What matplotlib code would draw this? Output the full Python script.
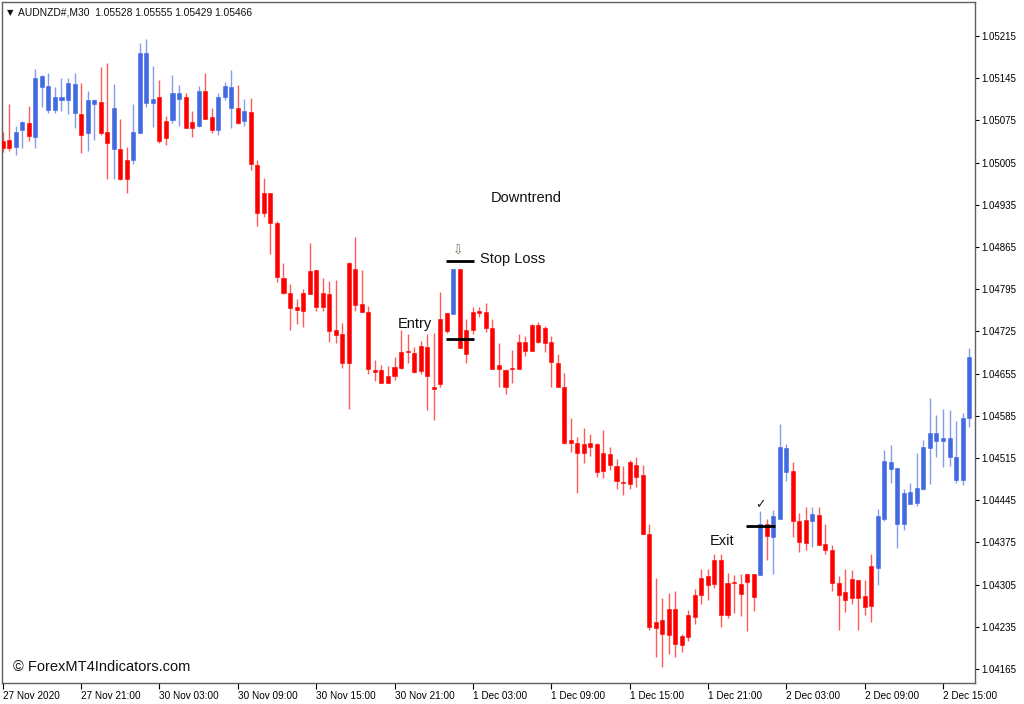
import matplotlib
matplotlib.use("Agg")
import matplotlib.pyplot as plt
import numpy as np

# ---------------- data (AUDNZD M30) ----------------
opens = [1.05040, 1.05042, 1.05031, 1.05059, 1.05071, 1.05048, 1.05130, 1.05093, 1.05093, 1.05109,
         1.05109, 1.05087, 1.05085, 1.05054, 1.05102, 1.05105, 1.05055, 1.05027, 1.05027, 1.05010,
         1.05010, 1.05054, 1.05104, 1.05104, 1.05113, 1.05074, 1.05076, 1.05110, 1.05113, 1.05073,
         1.05066, 1.05124, 1.05080, 1.05059, 1.05113, 1.05095, 1.05095, 1.05074, 1.05089, 1.05001,
         1.04954, 1.04954, 1.04904, 1.04814, 1.04788, 1.04765, 1.04788, 1.04825, 1.04827, 1.04789,
         1.04787, 1.04727, 1.04720, 1.04839, 1.04829, 1.04771, 1.04757, 1.04661, 1.04661, 1.04651,
         1.04666, 1.04691, 1.04692, 1.04689, 1.04700, 1.04699, 1.04633, 1.04746, 1.04755, 1.04754,
         1.04829, 1.04727, 1.04757, 1.04758, 1.04757, 1.04731, 1.04670, 1.04661, 1.04664, 1.04708,
         1.04708, 1.04735, 1.04735, 1.04730, 1.04708, 1.04673, 1.04632, 1.04544, 1.04540, 1.04538,
         1.04539, 1.04538, 1.04523, 1.04522, 1.04502, 1.04475, 1.04509, 1.04504, 1.04487, 1.04389,
         1.04243, 1.04246, 1.04265, 1.04265, 1.04220, 1.04254, 1.04288, 1.04315, 1.04319, 1.04346,
         1.04346, 1.04308, 1.04309, 1.04306, 1.04323, 1.04322, 1.04320, 1.04406, 1.04384, 1.04413,
         1.04492, 1.04493, 1.04410, 1.04412, 1.04410, 1.04421, 1.04372, 1.04363, 1.04308, 1.04292,
         1.04314, 1.04312, 1.04286, 1.04335, 1.04333, 1.04414, 1.04496, 1.04406, 1.04406, 1.04439,
         1.04441, 1.04463, 1.04532, 1.04543, 1.04543, 1.04517, 1.04479, 1.04479, 1.04582]
highs = [1.05056, 1.05102, 1.05066, 1.05074, 1.05099, 1.05160, 1.05150, 1.05154, 1.05130, 1.05146,
         1.05145, 1.05154, 1.05137, 1.05124, 1.05110, 1.05163, 1.05170, 1.05135, 1.05077, 1.05031,
         1.05102, 1.05203, 1.05210, 1.05165, 1.05142, 1.05082, 1.05150, 1.05134, 1.05121, 1.05090,
         1.05132, 1.05153, 1.05096, 1.05121, 1.05139, 1.05159, 1.05134, 1.05110, 1.05112, 1.05009,
         1.04980, 1.04954, 1.04908, 1.04838, 1.04804, 1.04778, 1.04796, 1.04871, 1.04827, 1.04814,
         1.04809, 1.04811, 1.04739, 1.04840, 1.04881, 1.04827, 1.04767, 1.04678, 1.04669, 1.04667,
         1.04683, 1.04727, 1.04721, 1.04699, 1.04709, 1.04720, 1.04722, 1.04791, 1.04755, 1.04828,
         1.04829, 1.04746, 1.04765, 1.04765, 1.04772, 1.04746, 1.04705, 1.04662, 1.04694, 1.04720,
         1.04717, 1.04738, 1.04741, 1.04734, 1.04717, 1.04688, 1.04656, 1.04582, 1.04549, 1.04564,
         1.04555, 1.04540, 1.04562, 1.04533, 1.04514, 1.04501, 1.04511, 1.04516, 1.04503, 1.04405,
         1.04315, 1.04282, 1.04291, 1.04294, 1.04223, 1.04263, 1.04297, 1.04330, 1.04330, 1.04355,
         1.04355, 1.04324, 1.04320, 1.04322, 1.04323, 1.04322, 1.04427, 1.04414, 1.04429, 1.04571,
         1.04538, 1.04509, 1.04424, 1.04433, 1.04433, 1.04433, 1.04405, 1.04370, 1.04319, 1.04331,
         1.04329, 1.04312, 1.04312, 1.04355, 1.04431, 1.04528, 1.04537, 1.04498, 1.04464, 1.04473,
         1.04523, 1.04544, 1.04615, 1.04586, 1.04597, 1.04594, 1.04576, 1.04590, 1.04697]
lows = [1.05023, 1.05025, 1.05017, 1.05029, 1.05041, 1.05030, 1.05098, 1.05087, 1.05088, 1.05091,
        1.05086, 1.05062, 1.05021, 1.05025, 1.05042, 1.05051, 1.04977, 1.04977, 1.04976, 1.04954,
        1.05003, 1.05054, 1.05098, 1.05064, 1.05037, 1.05034, 1.05071, 1.05066, 1.05062, 1.05047,
        1.05064, 1.05077, 1.05054, 1.05051, 1.05109, 1.05062, 1.05069, 1.05066, 1.04993, 1.04900,
        1.04914, 1.04853, 1.04807, 1.04787, 1.04728, 1.04738, 1.04732, 1.04787, 1.04759, 1.04759,
        1.04708, 1.04705, 1.04665, 1.04597, 1.04759, 1.04757, 1.04654, 1.04643, 1.04639, 1.04639,
        1.04644, 1.04663, 1.04673, 1.04656, 1.04654, 1.04595, 1.04578, 1.04632, 1.04722, 1.04754,
        1.04697, 1.04672, 1.04720, 1.04748, 1.04724, 1.04662, 1.04633, 1.04621, 1.04639, 1.04662,
        1.04684, 1.04693, 1.04706, 1.04691, 1.04632, 1.04632, 1.04538, 1.04525, 1.04457, 1.04506,
        1.04519, 1.04483, 1.04482, 1.04495, 1.04464, 1.04453, 1.04464, 1.04466, 1.04388, 1.04229,
        1.04184, 1.04168, 1.04190, 1.04185, 1.04193, 1.04212, 1.04239, 1.04273, 1.04280, 1.04300,
        1.04234, 1.04250, 1.04258, 1.04252, 1.04228, 1.04261, 1.04320, 1.04346, 1.04322, 1.04413,
        1.04477, 1.04384, 1.04359, 1.04363, 1.04367, 1.04370, 1.04355, 1.04294, 1.04229, 1.04259,
        1.04272, 1.04229, 1.04254, 1.04242, 1.04304, 1.04410, 1.04473, 1.04366, 1.04396, 1.04438,
        1.04435, 1.04461, 1.04471, 1.04516, 1.04500, 1.04501, 1.04473, 1.04470, 1.04566]
closes = [1.05029, 1.05029, 1.05056, 1.05072, 1.05049, 1.05146, 1.05148, 1.05132, 1.05113, 1.05114,
          1.05137, 1.05136, 1.05051, 1.05109, 1.05108, 1.05054, 1.05037, 1.05096, 1.04977, 1.04977,
          1.05056, 1.05187, 1.05186, 1.05110, 1.05040, 1.05045, 1.05121, 1.05121, 1.05063, 1.05062,
          1.05124, 1.05078, 1.05059, 1.05114, 1.05132, 1.05131, 1.05071, 1.05091, 1.05003, 1.04922,
          1.04922, 1.04904, 1.04815, 1.04789, 1.04763, 1.04760, 1.04759, 1.04787, 1.04765, 1.04766,
          1.04726, 1.04719, 1.04672, 1.04672, 1.04768, 1.04757, 1.04662, 1.04658, 1.04639, 1.04639,
          1.04651, 1.04665, 1.04690, 1.04658, 1.04659, 1.04651, 1.04629, 1.04637, 1.04726, 1.04828,
          1.04697, 1.04688, 1.04727, 1.04756, 1.04731, 1.04663, 1.04663, 1.04632, 1.04662, 1.04662,
          1.04693, 1.04693, 1.04708, 1.04705, 1.04674, 1.04632, 1.04540, 1.04539, 1.04523, 1.04523,
          1.04533, 1.04492, 1.04493, 1.04503, 1.04477, 1.04473, 1.04472, 1.04483, 1.04388, 1.04234,
          1.04233, 1.04223, 1.04221, 1.04206, 1.04204, 1.04218, 1.04251, 1.04287, 1.04305, 1.04306,
          1.04254, 1.04254, 1.04307, 1.04290, 1.04309, 1.04285, 1.04406, 1.04386, 1.04418, 1.04533,
          1.04531, 1.04410, 1.04376, 1.04374, 1.04422, 1.04371, 1.04362, 1.04307, 1.04288, 1.04280,
          1.04282, 1.04282, 1.04268, 1.04270, 1.04418, 1.04510, 1.04509, 1.04498, 1.04457, 1.04459,
          1.04465, 1.04533, 1.04557, 1.04557, 1.04548, 1.04548, 1.04517, 1.04582, 1.04682]

price_ticks = [1.05215, 1.05145, 1.05075, 1.05005, 1.04935, 1.04865, 1.04795, 1.04725,
               1.04655, 1.04585, 1.04515, 1.04445, 1.04375, 1.04305, 1.04235, 1.04165]
time_tick_bars = [0, 12, 24, 36, 48, 60, 72, 84, 96, 108, 120, 132, 144]
time_labels = ["27 Nov 2020", "27 Nov 21:00", "30 Nov 03:00", "30 Nov 09:00", "30 Nov 15:00",
               "30 Nov 21:00", "1 Dec 03:00", "1 Dec 09:00", "1 Dec 15:00", "1 Dec 21:00",
               "2 Dec 03:00", "2 Dec 09:00", "2 Dec 15:00"]

# trade levels
stop_loss_price = 1.04841
entry_price = 1.04712
exit_price = 1.04402
trade_span = (67.9, 72.2)
exit_span = (113.8, 118.3)

header = "AUDNZD#,M30  1.05528 1.05555 1.05429 1.05466"

# ---------------- drawing ----------------
BULL = "#4169E1"
BEAR = "#FF0000"
FONT = ["Liberation Sans", "DejaVu Sans"]
plt.rcParams["font.family"] = FONT

fig = plt.figure(figsize=(10.24, 7.04), dpi=100)
fig.patch.set_facecolor("white")
ax = fig.add_axes([2 / 1024, 21 / 704, 973 / 1024, 681 / 704])

o = np.array(opens); h = np.array(highs); l = np.array(lows); c = np.array(closes)
x = np.arange(len(o))
colors = np.where(c >= o, BULL, BEAR)

ax.vlines(x, l, h, colors=colors, linewidth=1.0, alpha=0.65, zorder=2)
body_h = c - o
body_h = np.where(np.abs(body_h) < 0.00001, 0.00001, body_h)
ax.bar(x, body_h, bottom=o, width=0.62, color=colors, edgecolor=colors,
       linewidth=0.4, zorder=3)

# trade lines
ax.hlines([stop_loss_price, entry_price], trade_span[0], trade_span[1],
          colors="black", linewidth=2.0, zorder=4)
ax.hlines([exit_price], exit_span[0], exit_span[1], colors="black",
          linewidth=2.0, zorder=4)

# annotations
TXT = dict(fontsize=10.5, color="#111111", va="center")
ax.text(80.1, 1.04946, "Downtrend", ha="center", **TXT)
ax.text(73.1, 1.04845, "Stop Loss", ha="left", **TXT)
ax.text(63.1, 1.04737, "Entry", ha="center", **TXT)
ax.text(110.1, 1.04377, "Exit", ha="center", **TXT)
ax.text(69.8, 1.04858, "\u21e9", fontsize=9, ha="center", va="center", color="#7a6a50",
        family=["DejaVu Sans"])
ax.text(116.0, 1.04437, "\u2713", fontsize=9, ha="center", va="center", color="#222222",
        family=["DejaVu Sans"])

ax.text(0.005, 0.985, "\u25bc", transform=ax.transAxes, fontsize=6, ha="left", va="center",
        family=["DejaVu Sans"], color="#111111")
ax.text(0.016, 0.985, header, transform=ax.transAxes, fontsize=7.4, ha="left", va="center",
        color="#111111")
ax.text(0.011, 0.023, "\u00a9 ForexMT4Indicators.com", transform=ax.transAxes, fontsize=10.5,
        ha="left", va="center", color="#111111")

# axes
ax.set_xlim(-0.11, 148.9)
ax.set_ylim(1.041416, 1.052714)
ax.yaxis.tick_right()
ax.set_yticks(price_ticks)
ax.set_yticklabels([f"{p:.5f}" for p in price_ticks])
ax.tick_params(axis="y", direction="out", length=3, width=0.8, pad=1.5, labelsize=7,
               colors="black")
ax.set_xticks(time_tick_bars)
ax.set_xticklabels(time_labels)
ax.tick_params(axis="x", direction="out", length=4, width=0.8, pad=1.5, labelsize=7.2,
               colors="black")
for lab in ax.get_xticklabels():
    lab.set_horizontalalignment("left")
for sp in ax.spines.values():
    sp.set_color("#606060")
    sp.set_linewidth(1.0)

fig.savefig("out.png", dpi=100, facecolor="white")
